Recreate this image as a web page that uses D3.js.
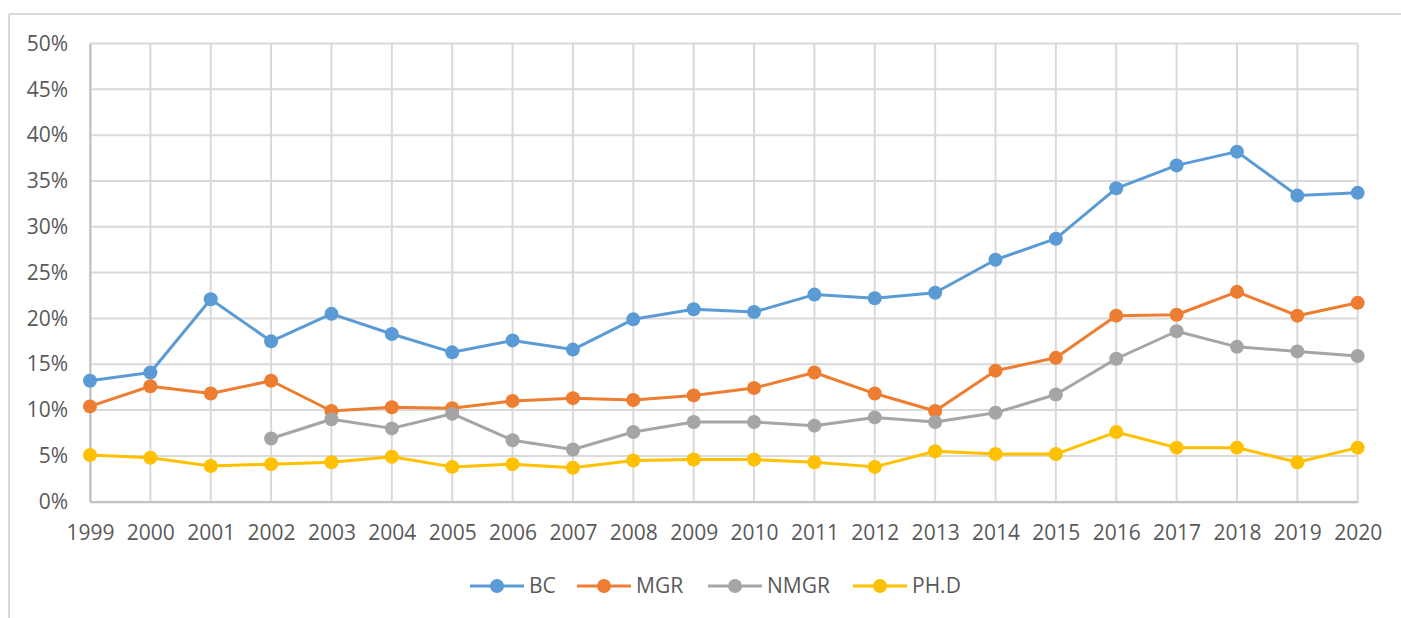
<!DOCTYPE html>
<html>
<head>
<meta charset="utf-8">
<script src="https://cdn.jsdelivr.net/npm/d3@7"></script>
<style>
  body { margin: 0; background: #fff; }
  text { font-family: "Open Sans", "Liberation Sans", sans-serif; fill: #595959; }
</style>
</head>
<body>
<div id="container"></div>
<script>
// data (percent)
var years = [1999, 2000, 2001, 2002, 2003, 2004, 2005, 2006, 2007, 2008, 2009, 2010,
             2011, 2012, 2013, 2014, 2015, 2016, 2017, 2018, 2019, 2020];
var bc   = [13.2, 14.1, 22.1, 17.5, 20.5, 18.3, 16.3, 17.6, 16.6, 19.9, 21.0, 20.7,
            22.6, 22.2, 22.8, 26.4, 28.7, 34.2, 36.7, 38.2, 33.4, 33.7];
var mgr  = [10.4, 12.6, 11.8, 13.2, 9.9, 10.3, 10.2, 11.0, 11.3, 11.1, 11.6, 12.4,
            14.1, 11.8, 9.9, 14.3, 15.7, 20.3, 20.4, 22.9, 20.3, 21.7];
var nmgr = [null, null, null, 6.9, 9.0, 8.0, 9.6, 6.7, 5.7, 7.6, 8.7, 8.7,
            8.3, 9.2, 8.7, 9.7, 11.7, 15.6, 18.6, 16.9, 16.4, 15.9];
var phd  = [5.1, 4.8, 3.9, 4.1, 4.3, 4.9, 3.8, 4.1, 3.7, 4.5, 4.6, 4.6,
            4.3, 3.8, 5.5, 5.2, 5.2, 7.6, 5.9, 5.9, 4.3, 5.9];
var yTicks = [0, 5, 10, 15, 20, 25, 30, 35, 40, 45, 50];
var seriesNames = ["BC", "MGR", "NMGR", "PH.D"];
var seriesColors = ["#5B9BD5", "#ED7D31", "#A5A5A5", "#FFC000"];

var width = 1401, height = 618;
var svg = d3.select("#container").append("svg")
    .attr("width", width)
    .attr("height", height);

// chart frame (only top and left edges are visible in the crop)
svg.append("line").attr("x1", 9).attr("x2", width).attr("y1", 14).attr("y2", 14)
    .attr("stroke", "#D9D9D9").attr("stroke-width", 2);
svg.append("line").attr("x1", 9).attr("x2", 9).attr("y1", 14).attr("y2", height)
    .attr("stroke", "#D9D9D9").attr("stroke-width", 2);

var x = d3.scaleLinear().domain([1999, 2020]).range([90, 1357.7]);
var y = d3.scaleLinear().domain([0, 50]).range([501.7, 43.5]);

// gridlines
var grid = svg.append("g");
grid.selectAll(".hg").data(yTicks).enter().append("line")
    .attr("x1", x(1999)).attr("x2", x(2020))
    .attr("y1", function(d) { return y(d); }).attr("y2", function(d) { return y(d); })
    .attr("stroke", "#D9D9D9").attr("stroke-width", 2);
grid.selectAll(".vg").data(years).enter().append("line")
    .attr("x1", function(d) { return x(d); }).attr("x2", function(d) { return x(d); })
    .attr("y1", y(0)).attr("y2", y(50))
    .attr("stroke", "#D9D9D9").attr("stroke-width", 2);

// axes
var yAxis = svg.append("g")
    .attr("transform", "translate(" + x(1999) + ",0)")
    .call(d3.axisLeft(y).tickValues(yTicks).tickSize(0).tickPadding(22)
        .tickFormat(function(d) { return d + "%"; }));
yAxis.select(".domain").attr("stroke", "#BFBFBF").attr("stroke-width", 2);
yAxis.selectAll("text").style("font-size", "21px").attr("fill", "#595959");

var xAxis = svg.append("g")
    .attr("transform", "translate(0," + y(0) + ")")
    .call(d3.axisBottom(x).tickValues(years).tickSize(0).tickPadding(23)
        .tickFormat(d3.format("d")));
xAxis.select(".domain").attr("stroke", "#BFBFBF").attr("stroke-width", 2);
xAxis.selectAll("text").style("font-size", "21px").attr("fill", "#595959");

// series
var series = [bc, mgr, nmgr, phd].map(function(vals, i) {
    return {
        name: seriesNames[i],
        color: seriesColors[i],
        points: years.map(function(yr, j) { return { year: yr, value: vals[j] }; })
            .filter(function(p) { return p.value !== null; })
    };
});

var line = d3.line()
    .x(function(d) { return x(d.year); })
    .y(function(d) { return y(d.value); });

var sg = svg.selectAll(".series").data(series).enter().append("g");
sg.append("path")
    .attr("d", function(d) { return line(d.points); })
    .attr("fill", "none")
    .attr("stroke", function(d) { return d.color; })
    .attr("stroke-width", 3)
    .attr("stroke-linejoin", "round");
sg.each(function(s) {
    d3.select(this).selectAll("circle").data(s.points).enter().append("circle")
        .attr("cx", function(d) { return x(d.year); })
        .attr("cy", function(d) { return y(d.value); })
        .attr("r", 7)
        .attr("fill", s.color);
});

// legend
var legendX = [470, 577, 708, 853];
var lg = svg.selectAll(".legend").data(series).enter().append("g")
    .attr("transform", function(d, i) { return "translate(" + legendX[i] + ",586)"; });
lg.append("line").attr("x1", 0).attr("x2", 54).attr("y1", 0).attr("y2", 0)
    .attr("stroke", function(d) { return d.color; }).attr("stroke-width", 3);
lg.append("circle").attr("cx", 27).attr("cy", 0).attr("r", 7)
    .attr("fill", function(d) { return d.color; });
lg.append("text").attr("x", 59).attr("y", 0).attr("dy", "0.35em")
    .style("font-size", "21px")
    .text(function(d) { return d.name; });
</script>
</body>
</html>
